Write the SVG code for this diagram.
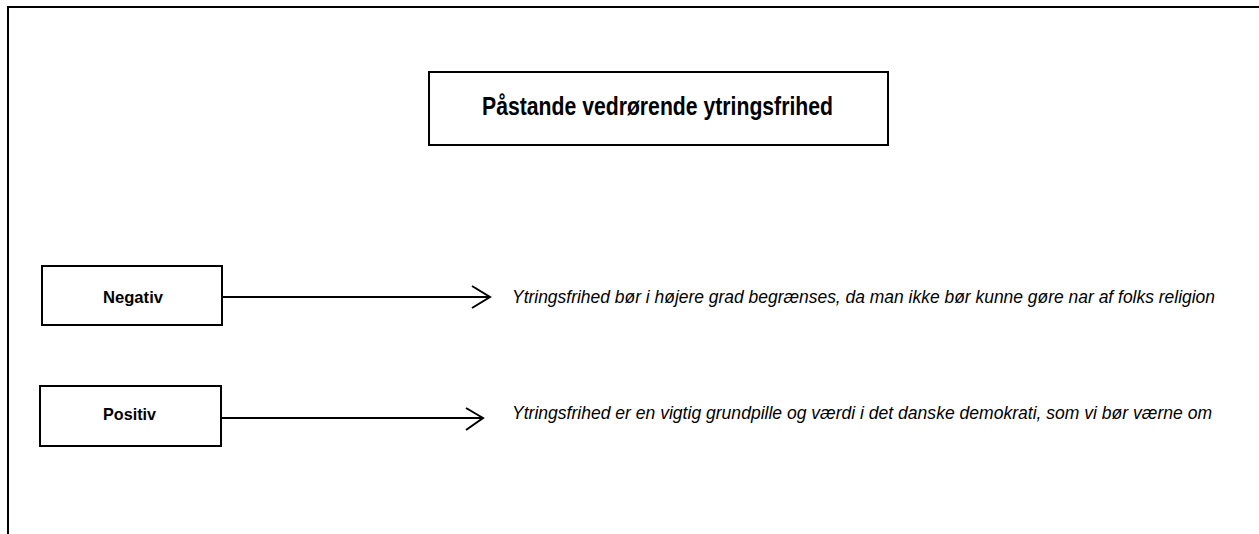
<svg xmlns="http://www.w3.org/2000/svg" width="1259" height="534" viewBox="0 0 1259 534">
<style>
.box{fill:#fff;stroke:#000;stroke-width:2}
.frame{fill:none;stroke:#000;stroke-width:2}
.lbl{font-family:"Liberation Sans",Arial,sans-serif;font-weight:bold;fill:#000}
.claim{font-family:"Liberation Sans",Arial,sans-serif;font-style:italic;font-size:18.5px;fill:#000}
.conn{fill:none;stroke:#000;stroke-width:2}
</style>
<rect width="1259" height="534" fill="#fff"/>
<path class="frame" d="M8,534 V7 H1259"/>
<g id="title">
<rect class="box" x="429" y="72" width="459" height="73"/>
<text class="lbl" x="482" y="115" font-size="25" textLength="351" lengthAdjust="spacingAndGlyphs">Påstande vedrørende ytringsfrihed</text>
</g>
<g id="negativ">
<rect class="box" x="42" y="266" width="180" height="59"/>
<text class="lbl" x="103" y="303" font-size="17" textLength="60" lengthAdjust="spacingAndGlyphs">Negativ</text>
</g>
<g id="positiv">
<rect class="box" x="40" y="386" width="181" height="60"/>
<text class="lbl" x="103" y="420" font-size="17" textLength="53" lengthAdjust="spacingAndGlyphs">Positiv</text>
</g>
<g id="claim-negativ">
<text class="claim" x="512" y="303" textLength="703" lengthAdjust="spacingAndGlyphs">Ytringsfrihed bør i højere grad begrænses, da man ikke bør kunne gøre nar af folks religion</text>
</g>
<g id="claim-positiv">
<text class="claim" x="512" y="419" textLength="700" lengthAdjust="spacingAndGlyphs">Ytringsfrihed er en vigtig grundpille og værdi i det danske demokrati, som vi bør værne om</text>
</g>
<g id="connectors">
<path class="conn" d="M222,297 H490 M472,286 L490,297 L472,308"/>
<path class="conn" d="M221,418 H483 M466,408 L483,418 L466,430"/>
</g>
</svg>
